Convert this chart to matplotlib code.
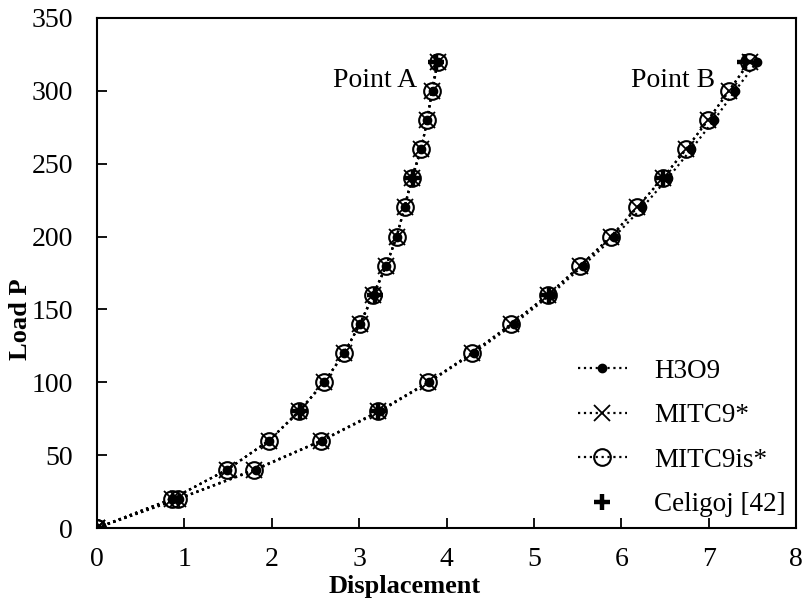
import matplotlib
matplotlib.use("Agg")
import matplotlib.pyplot as plt

plt.rcParams['font.family'] = ['Liberation Serif', 'DejaVu Serif']

loads = [0, 20, 40, 60, 80, 100, 120, 140, 160, 180, 200, 220, 240, 260, 280, 300, 320]

# Point A curve
h3o9_A   = [0, 0.86, 1.49, 1.97, 2.32, 2.60, 2.83, 3.01, 3.17, 3.31, 3.43, 3.52, 3.61, 3.71, 3.78, 3.84, 3.90]
mitc9_A  = [0, 0.86, 1.49, 1.97, 2.31, 2.60, 2.83, 3.01, 3.16, 3.31, 3.43, 3.52, 3.60, 3.71, 3.78, 3.83, 3.90]
mitc9is_A = [0, 0.86, 1.49, 1.97, 2.31, 2.60, 2.83, 3.01, 3.16, 3.31, 3.43, 3.52, 3.60, 3.71, 3.78, 3.83, 3.90]

# Point B curve
h3o9_B   = [0, 0.94, 1.82, 2.58, 3.24, 3.80, 4.31, 4.77, 5.19, 5.56, 5.92, 6.24, 6.53, 6.80, 7.06, 7.30, 7.55]
mitc9_B  = [0, 0.93, 1.80, 2.57, 3.22, 3.79, 4.29, 4.74, 5.16, 5.53, 5.88, 6.18, 6.47, 6.74, 6.99, 7.23, 7.47]
mitc9is_B = [0, 0.93, 1.80, 2.57, 3.22, 3.79, 4.29, 4.74, 5.16, 5.53, 5.88, 6.18, 6.47, 6.74, 6.99, 7.23, 7.46]

cel_loads = [80, 160, 240, 320]
cel_A = [2.32, 3.18, 3.62, 3.88]
cel_B = [3.22, 5.17, 6.48, 7.41]

fig = plt.figure(figsize=(8.06, 5.98), dpi=100)
ax = fig.add_axes([0.120, 0.117, 0.868, 0.853])

lkw = dict(color='black', linestyle=':', linewidth=1.6)
for xs, lab in [(h3o9_A, 'H3O9'), (h3o9_B, None)]:
    ax.plot(xs, loads, marker='o', markersize=6, markerfacecolor='black',
            markeredgecolor='black', label=lab, **lkw)
for xs, lab in [(mitc9_A, 'MITC9*'), (mitc9_B, None)]:
    ax.plot(xs, loads, marker='x', markersize=11, markeredgewidth=1.3,
            markeredgecolor='black', label=lab, **lkw)
for xs, lab in [(mitc9is_A, 'MITC9is*'), (mitc9is_B, None)]:
    ax.plot(xs, loads, marker='o', markersize=12, markerfacecolor='none',
            markeredgewidth=1.5, markeredgecolor='black', label=lab, **lkw)
for xs, lab in [(cel_A, 'Celigoj [42]'), (cel_B, None)]:
    ax.plot(xs, cel_loads, linestyle='none', marker='+', markersize=11,
            markeredgewidth=3.2, color='black', label=lab)

ax.set_xlim(0, 8)
ax.set_ylim(0, 350)
ax.set_xticks(range(0, 9))
ax.set_yticks(range(0, 351, 50))
ax.tick_params(direction='in', length=7, width=1.3, labelsize=20)
ax.tick_params(axis='x', pad=14)
ax.tick_params(axis='y', pad=17)
for s in ax.spines.values():
    s.set_linewidth(1.5)

ax.set_xlabel('Displacement', fontsize=19, fontweight='bold')
ax.set_ylabel('Load P', fontsize=19, fontweight='bold')
ax.xaxis.set_label_coords(0.44, -0.092)
ax.yaxis.set_label_coords(-0.093, 0.41)

ax.text(3.66, 307, 'Point A', fontsize=20, ha='right', va='center')
ax.text(7.07, 307, 'Point B', fontsize=20, ha='right', va='center')

leg = ax.legend(loc='lower right', frameon=False, fontsize=19.5, handlelength=1.8,
                labelspacing=0.72, handletextpad=1.0, borderaxespad=0.1,
                borderpad=0.3)

fig.savefig('out.png', dpi=100)
